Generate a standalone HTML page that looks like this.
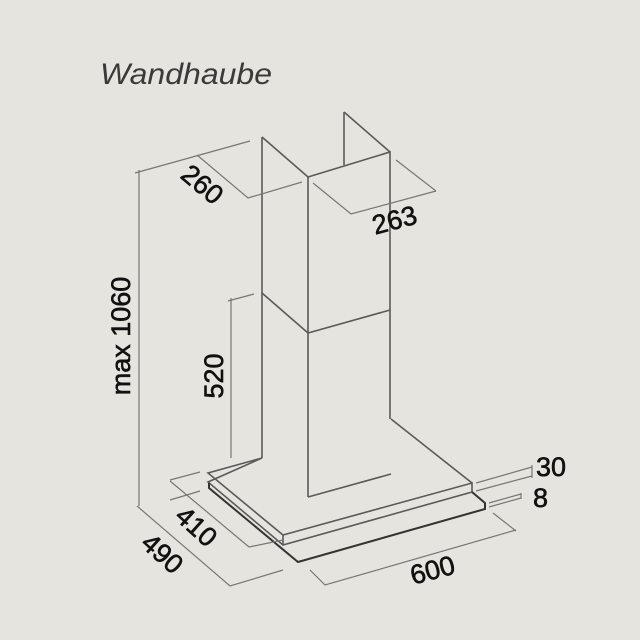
<!DOCTYPE html>
<html><head><meta charset="utf-8"><style>
html,body{margin:0;padding:0;background:#e5e4de;}
svg{display:block}
text{font-family:"Liberation Sans",sans-serif;fill:#111;}
</style></head><body>
<svg width="640" height="640" viewBox="0 0 640 640" xmlns="http://www.w3.org/2000/svg">
<rect width="640" height="640" fill="#e5e4de"/>
<text x="100" y="84" font-size="30" font-style="italic" fill="#3a3a3a" style="fill:#3a3a3a" textLength="172" lengthAdjust="spacingAndGlyphs">Wandhaube</text>
<g stroke="#5a5a5a" stroke-width="1.6" fill="none">
 <path d="M262,137 L262,458"/>
 <path d="M262,137 L308,177 L390,152 L390,419"/>
 <path d="M308,177 L308,497"/>
 <path d="M344,112 L344,165"/>
 <path d="M344,112 L390,152"/>
 <path d="M262,293 L308,333 L390,310"/>
 <path d="M308,497 L391,474"/>
 <path d="M391,419 L472,483"/>
 <path d="M262,458 L208,473 L283,535 L472,483 L472,492 L283,545 L208,482 Z"/>
 <path d="M283,535 L283,545"/>
 <path d="M209,483 L209,488 L298,562 L485,509 L485,503 L472,492" stroke="#333" stroke-width="2"/>
</g>
<g stroke="#777" stroke-width="1.2" fill="none">
 <path d="M139,170 L139,506"/>
 <path d="M135,173 L250,141"/>
 <path d="M197,155 L248,198 L302,182"/>
 <path d="M396,160 L436,191"/>
 <path d="M313,183 L351,214 L436,191"/>
 <path d="M231,298 L231,458"/>
 <path d="M228,301 L254,294"/>
 <path d="M476,483 L532,467 M476,491 L532,476 M532,465 L532,478"/>
 <path d="M489,503 L521,494 M489,507 L521,498 M521,493 L521,499"/>
 <path d="M170,481 L249,547 L283,540"/>
 <path d="M170,480 L200,472 M170,500 L200,491"/>
 <path d="M137,506 L230,586 L283,570"/>
 <path d="M310,570 L325,585 L516,530 M493,513 L516,531"/>
</g>
<g font-size="27" stroke="#111" stroke-width="0.6">
 <text transform="translate(201,186) rotate(40)" text-anchor="middle" dominant-baseline="middle">260</text>
 <text transform="translate(395,222) rotate(-15)" text-anchor="middle" dominant-baseline="middle">263</text>
 <text transform="translate(123,336) rotate(-90)" text-anchor="middle" dominant-baseline="middle">max 1060</text>
 <text transform="translate(216,376) rotate(-90)" text-anchor="middle" dominant-baseline="middle">520</text>
 <text x="536" y="476">30</text>
 <text x="533" y="507">8</text>
 <text transform="translate(195,528) rotate(42)" text-anchor="middle" dominant-baseline="middle">410</text>
 <text transform="translate(161,555) rotate(42)" text-anchor="middle" dominant-baseline="middle">490</text>
 <text transform="translate(433,572) rotate(-15)" text-anchor="middle" dominant-baseline="middle">600</text>
</g>
</svg>
</body></html>
